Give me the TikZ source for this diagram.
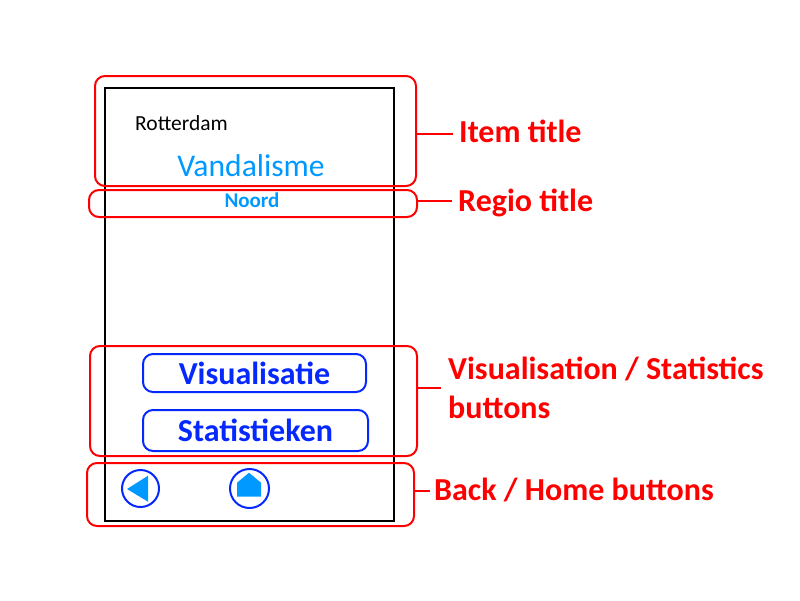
\documentclass[tikz,border=0pt]{standalone}
\usepackage{fontspec}
\setmainfont{Carlito}
\definecolor{btnblue}{RGB}{5,40,255}
\definecolor{skyblue}{RGB}{0,153,255}
\tikzset{
  x=1pt,y=-1pt,
  phone/.style={draw=black,line width=2pt,inner sep=0pt,minimum width=289pt,minimum height=433pt},
  callout/.style={draw=red,line width=2pt,rounded corners=10pt,inner sep=0pt},
  btn/.style={draw=btnblue,line width=2pt,rounded corners=10pt,inner sep=0pt,text=btnblue,font=\fontsize{32}{32}\selectfont\bfseries},
  round/.style={circle,draw=btnblue,line width=2pt,inner sep=0pt},
  label/.style={text=red,font=\fontsize{32}{39}\selectfont\bfseries,inner sep=0pt,anchor=west,align=left},
  lead/.style={draw=red,line width=2pt},
  icon/.style={fill=skyblue,draw=none}
}
\begin{document}
\begin{tikzpicture}
\useasboundingbox (0,0) rectangle (800,600);
\node[phone] (screen) at (249.5,304.5) {};
\node[inner sep=0pt,anchor=west,font=\fontsize{21.5}{22}\selectfont] (city) at (135,123.5) {Rotterdam};
\node[inner sep=0pt,text=skyblue,font=\fontsize{31.6}{32}\selectfont] (item) at (251,166) {Vandalisme};
\node[inner sep=0pt,text=skyblue,font=\fontsize{21}{22}\selectfont\bfseries] (regio) at (252,200.5) {Noord};
\node[btn,minimum width=223pt,minimum height=38pt] (vis) at (254.5,373) {Visualisatie};
\node[btn,minimum width=225pt,minimum height=41pt] (stat) at (255.5,430.5) {Statistieken};
\node[round,minimum size=37pt] (back) at (140.5,488.5) {};
\node[round,minimum size=39pt] (home) at (249.5,488.5) {};
\fill[icon] (127,489) -- (148,475.7) -- (148,501.7) -- cycle;
\fill[icon] (237,496.7) -- (261,496.7) -- (261,482.7) -- (249,472.7) -- (237,482.7) -- cycle;
\node[callout,minimum width=321pt,minimum height=110pt] (itembox) at (255.5,131) {};
\node[callout,minimum width=328pt,minimum height=27pt] (regiobox) at (253,203.5) {};
\node[callout,minimum width=327pt,minimum height=110pt] (visbox) at (253.5,401) {};
\node[callout,minimum width=327pt,minimum height=63pt] (backbox) at (250.5,494.5) {};
\node[label] (itemlabel) at (459,131) {Item title};
\node[label] (regiolabel) at (458,203) {Regio title};
\node[label] (vislabel) at (448,387.5) {Visualisation / Statistics\\buttons};
\node[label] (backlabel) at (434,490) {Back / Home buttons};
\coordinate (itemend) at (453,134);
\coordinate (regioend) at (452,201);
\coordinate (visend) at (441,388);
\coordinate (backend) at (430,491);
\draw[lead] (itembox.east |- itemend) -- (itemend);
\draw[lead] (regiobox.east |- regioend) -- (regioend);
\draw[lead] (visbox.east |- visend) -- (visend);
\draw[lead] (backbox.east |- backend) -- (backend);
\end{tikzpicture}
\end{document}
